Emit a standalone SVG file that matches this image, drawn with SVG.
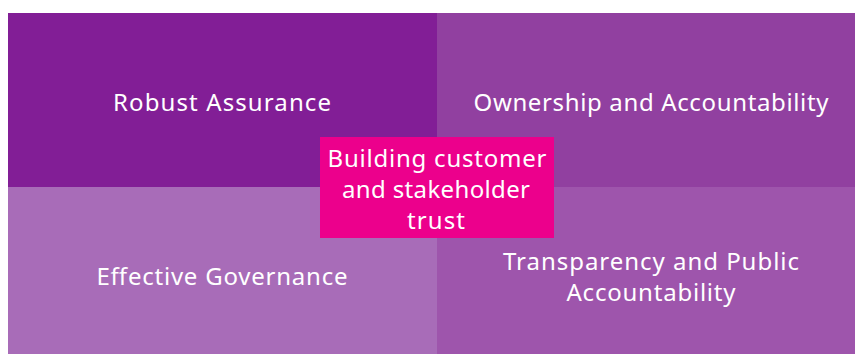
<svg xmlns="http://www.w3.org/2000/svg" width="855" height="354" viewBox="0 0 855 354">
<style>
text{font-family:"Noto Sans","DejaVu Sans",sans-serif;font-size:24px;fill:#ffffff;text-anchor:middle;lengthAdjust:spacing}
</style>
<rect width="855" height="354" fill="#ffffff"/>
<g id="robust-assurance"><rect x="8" y="13" width="429" height="174" fill="#821e96"/><text x="222" y="111" textLength="218" lengthAdjust="spacing">Robust Assurance</text></g>
<g id="ownership"><rect x="437" y="13" width="418" height="174" fill="#9140a0"/><text x="651" y="111" textLength="355" lengthAdjust="spacing">Ownership and Accountability</text></g>
<g id="effective-governance"><rect x="8" y="187" width="429" height="167" fill="#a86cb8"/><text x="222" y="285" textLength="251" lengthAdjust="spacing">Effective Governance</text></g>
<g id="transparency"><rect x="437" y="187" width="418" height="167" fill="#9e55ac"/><text x="651" y="270" textLength="296" lengthAdjust="spacing">Transparency and Public</text><text x="651" y="301" textLength="169" lengthAdjust="spacing">Accountability</text></g>
<g id="connectors"/>
<g id="center"><rect x="320" y="137" width="234" height="101" fill="#ec008c"/><text x="437" y="167" textLength="219" lengthAdjust="spacing">Building customer</text><text x="436" y="198" textLength="188" lengthAdjust="spacing">and stakeholder</text><text x="436" y="229" textLength="58" lengthAdjust="spacing">trust</text></g>
</svg>
